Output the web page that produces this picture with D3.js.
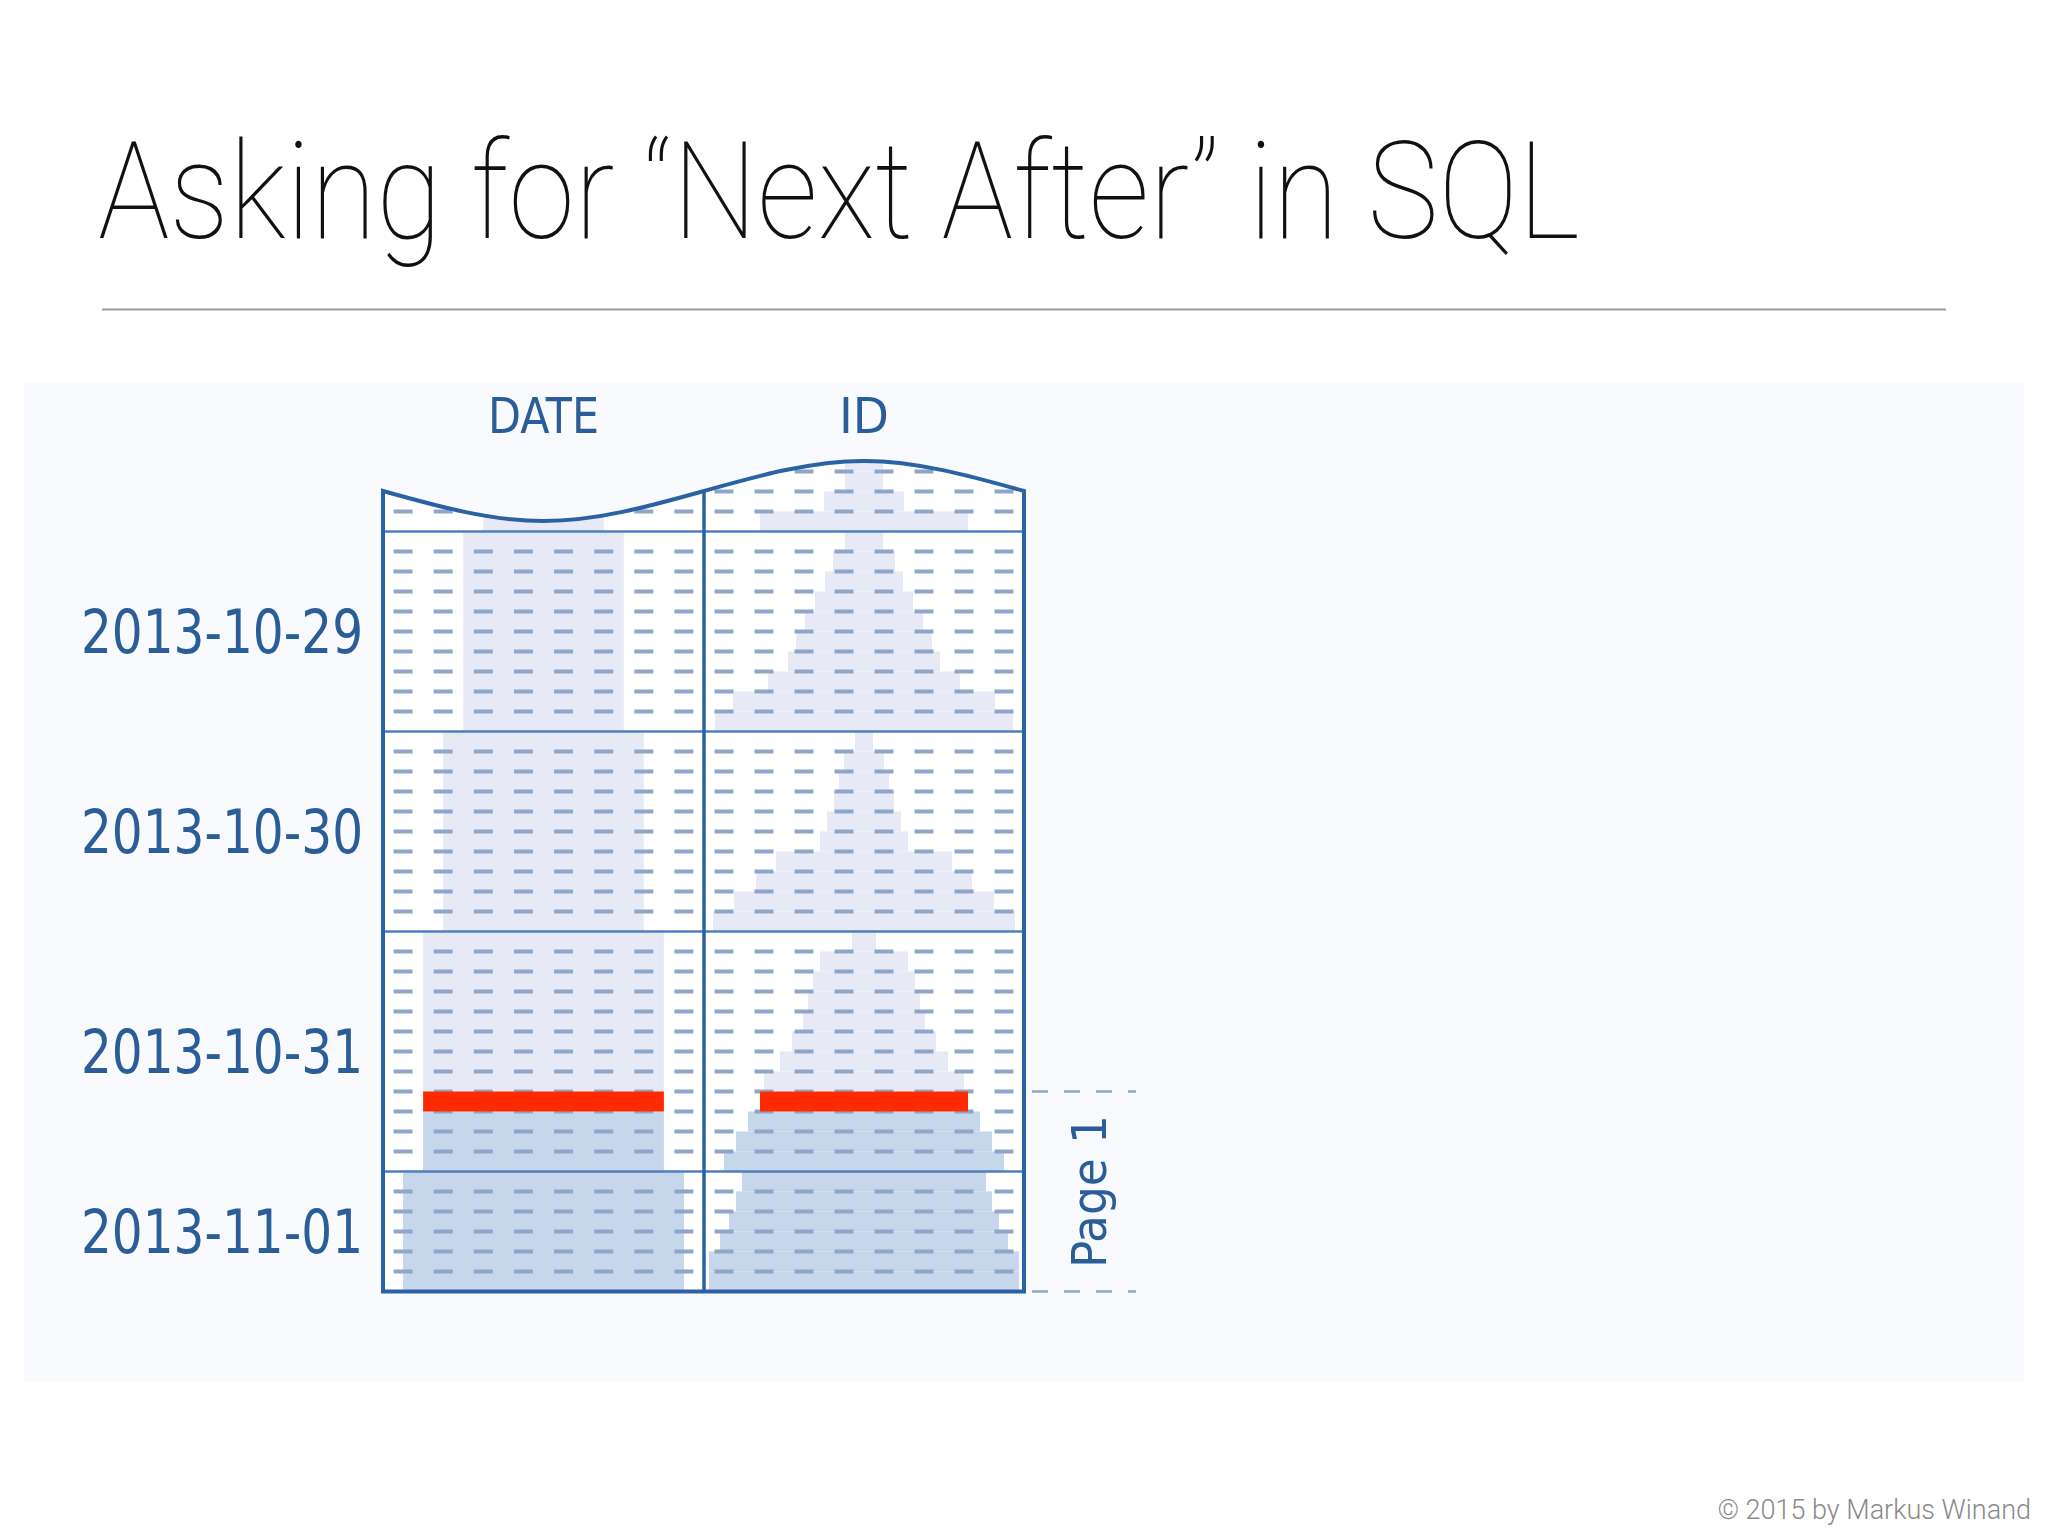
<!DOCTYPE html>
<html>
<head>
<meta charset="utf-8">
<script src="https://cdn.jsdelivr.net/npm/d3@7"></script>
<style>
  html, body { margin: 0; padding: 0; background: #ffffff; }
  svg { display: block; }
</style>
</head>
<body>
<svg id="chart" width="2048" height="1536"></svg>
<script>
// data
var dates = ["2013-10-29", "2013-10-30", "2013-10-31", "2013-11-01"];
var rowsPerSection = [3, 9, 9, 11, 5];          // first section is the cut-off one under the wave
var dateWidths = [3, 4, 5, 6, 7];               // DATE shading width per section (in dash units)
var idWidths = [                                 // ID shading width per band (in dash units)
  [0.95, 0.95, 2.0, 5.2],
  [0.95, 1.55, 1.95, 2.45, 2.95, 3.4, 3.8, 4.8, 6.55, 7.45],
  [0.45, 1.0, 1.25, 1.5, 1.85, 2.2, 4.4, 5.4, 6.5, 7.55],
  [0.6, 2.2, 2.55, 2.8, 3.05, 3.6, 4.2, 5.0, 5.2, 5.8, 6.4, 7.0],
  [6.1, 6.4, 6.75, 7.2, 7.75, 7.75]
];
var headers = ["DATE", "ID"];
var redSlot = 31;                                // the "next after" row position
var redWidths = [6, 5.2];

var svg = d3.select("#chart");
var blue = "#2a62a3", dashCol = "#8ea6c9", textBlue = "#2b5d98";
var labelFont = "'DejaVu Sans Condensed', 'DejaVu Sans'";

// title and rule
svg.append("text").attr("x", 98).attr("y", 238)
  .attr("font-family", "Roboto, Lato, 'Liberation Sans'").attr("font-weight", 100)
  .attr("font-size", 136).attr("fill", "#111")
  .attr("textLength", 1482).attr("lengthAdjust", "spacingAndGlyphs")
  .text("Asking for \u201cNext After\u201d in SQL");
svg.append("line").attr("x1", 102).attr("x2", 1946).attr("y1", 309.5).attr("y2", 309.5)
  .attr("stroke", "#9a9a9a").attr("stroke-width", 2);

// panel background
svg.append("rect").attr("x", 24).attr("y", 383).attr("width", 2000).attr("height", 999)
  .attr("fill", "#f9fafd");

// scales
var y = d3.scaleLinear().domain([0, 1]).range([471.5, 491.5]);   // slot -> y
var cols = [d3.scaleLinear().domain([-4, 4]).range([383, 704]),
            d3.scaleLinear().domain([-4, 4]).range([704, 1024])];
var left = 383, right = 1024, mid = 704;
var lastSlot = d3.sum(rowsPerSection) + rowsPerSection.length - 1;   // bottom line slot

// section slot bookkeeping
var sections = [], s = 0;
rowsPerSection.forEach(function (n, i) {
  sections.push({ start: s, n: n, line: s + n });
  s += n + 1;
});

// white box area + clip
var wave = [[left, 491], [543.5, 521], [mid, 491], [864, 461], [right, 491]];
var waveLine = d3.line().curve(d3.curveNatural);
var wavePath = waveLine(wave);
var boxPath = wavePath + "L" + right + "," + y(lastSlot) + "L" + left + "," + y(lastSlot) + "Z";
svg.append("defs").append("clipPath").attr("id", "box").append("path").attr("d", boxPath);
svg.append("path").attr("d", boxPath).attr("fill", "#ffffff");

var g = svg.append("g").attr("clip-path", "url(#box)");

// shading bands: light above the red row, darker below it (page 1)
function shade(col, y0, y1, w) {
  var sc = cols[col];
  var light = y1 <= redSlot + 1.01;
  g.append("rect")
    .attr("x", sc(-w / 2)).attr("width", sc(w / 2) - sc(-w / 2))
    .attr("y", y(y0)).attr("height", y(y1) - y(y0))
    .attr("fill", light ? "#e7eaf6" : "#c6d6eb");
}
sections.forEach(function (sec, i) {
  var top = i === 0 ? -1.5 : sec.start - 1;
  var a = top, b = sec.line;
  if (a < redSlot + 1 && b > redSlot + 1) {
    shade(0, a, redSlot + 1, dateWidths[i]);
    shade(0, redSlot + 1, b, dateWidths[i]);
  } else shade(0, a, b, dateWidths[i]);
  idWidths[i].forEach(function (w, j) {
    var y0 = j === 0 ? top : sec.start + j - 1;
    var y1 = sec.start + j;
    if (j === idWidths[i].length - 1) y1 = sec.line;
    shade(1, y0, y1, w);
  });
});

// dashes
var dashX = d3.range(8).map(function (k) { return k - 3.5; });
sections.forEach(function (sec) {
  d3.range(sec.start, sec.start + sec.n).forEach(function (slot) {
    [0, 1].forEach(function (c) {
      g.selectAll(null).data(dashX).enter().append("line")
        .attr("x1", function (d) { return cols[c](d) - 9.5; })
        .attr("x2", function (d) { return cols[c](d) + 9.5; })
        .attr("y1", y(slot)).attr("y2", y(slot))
        .attr("stroke", dashCol).attr("stroke-width", 4);
    });
  });
});

// red "next after" bars
redWidths.forEach(function (w, c) {
  svg.append("rect").attr("x", cols[c](-w / 2)).attr("width", cols[c](w / 2) - cols[c](-w / 2))
    .attr("y", y(redSlot)).attr("height", y(redSlot + 1) - y(redSlot))
    .attr("fill", "#ff2a00");
});

// separators and outline
sections.slice(0, -1).forEach(function (sec) {
  svg.append("line").attr("x1", left).attr("x2", right)
    .attr("y1", y(sec.line)).attr("y2", y(sec.line))
    .attr("stroke", "#4e7fb9").attr("stroke-width", 2.5);
});
svg.append("path").attr("d", boxPath).attr("fill", "none")
  .attr("stroke", blue).attr("stroke-width", 4);
svg.append("line").attr("x1", mid).attr("x2", mid).attr("y1", 491).attr("y2", y(lastSlot))
  .attr("stroke", blue).attr("stroke-width", 3.5);

// headers
var headerLen = [111, 50];
headers.forEach(function (h, c) {
  svg.append("text").attr("x", cols[c](0)).attr("y", 433).attr("text-anchor", "middle")
    .attr("font-family", labelFont).attr("font-size", 50).attr("fill", textBlue)
    .attr("textLength", headerLen[c]).attr("lengthAdjust", "spacingAndGlyphs").text(h);
});

// date labels, centered on each section
dates.forEach(function (d, i) {
  var sec = sections[i + 1];
  var cy = (y(sec.start - 1) + y(sec.line)) / 2;
  svg.append("text").attr("x", 363).attr("y", cy).attr("dy", "0.36em").attr("text-anchor", "end")
    .attr("font-family", labelFont).attr("font-size", 60).attr("fill", textBlue)
    .attr("textLength", 282).attr("lengthAdjust", "spacingAndGlyphs").text(d);
});

// page bracket
[redSlot, lastSlot].forEach(function (slot) {
  svg.append("line").attr("x1", 1032).attr("x2", 1136).attr("y1", y(slot)).attr("y2", y(slot))
    .attr("stroke", "#8ea6c9").attr("stroke-width", 2.5).attr("stroke-dasharray", "16,16");
});
svg.append("text")
  .attr("transform", "translate(1106," + (y(redSlot) + y(lastSlot)) / 2 + ") rotate(-90)")
  .attr("text-anchor", "middle")
  .attr("font-family", labelFont).attr("font-size", 48).attr("fill", textBlue)
  .attr("textLength", 153).attr("lengthAdjust", "spacingAndGlyphs").text("Page 1");

// footer
svg.append("text").attr("x", 2031).attr("y", 1519).attr("text-anchor", "end")
  .attr("font-family", "Roboto, 'Liberation Sans'").attr("font-weight", 300)
  .attr("font-size", 27).attr("fill", "#8a8a8a").text("\u00a9 2015 by Markus Winand");
</script>
</body>
</html>
